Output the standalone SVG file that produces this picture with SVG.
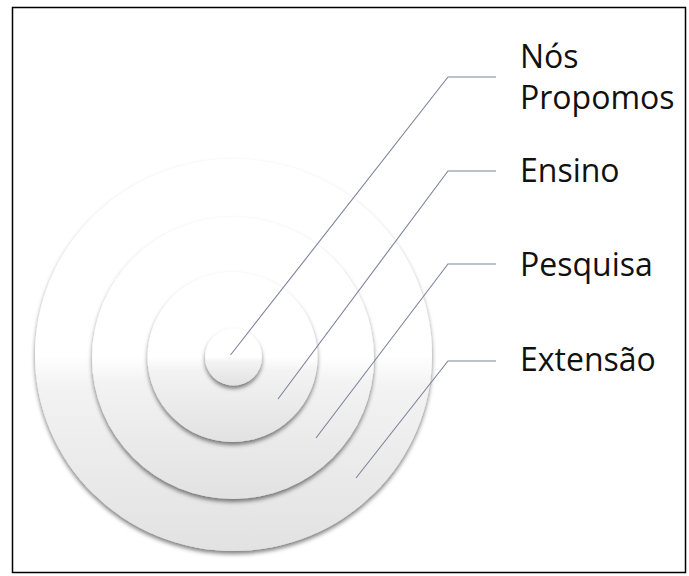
<svg xmlns="http://www.w3.org/2000/svg" width="689" height="576" viewBox="0 0 689 576">
  <style>
    .ring { fill: url(#ringFill); filter: url(#ringShadow); }
    .conn { fill: none; stroke: #7d849c; stroke-width: 1.1; }
    .label { font-family: "Open Sans", "Noto Sans", sans-serif; font-size: 32px; fill: #111; }
  </style>
  <defs>
    <linearGradient id="ringFill" x1="0" y1="0" x2="0" y2="1">
      <stop offset="0" stop-color="#ffffff"/>
      <stop offset="0.5" stop-color="#ffffff"/>
      <stop offset="0.58" stop-color="#f3f3f3"/>
      <stop offset="1" stop-color="#e2e2e2"/>
    </linearGradient>
    <filter id="ringShadow" x="-10%" y="-10%" width="120%" height="125%">
      <feDropShadow dx="0" dy="3" stdDeviation="2.2" flood-color="#000" flood-opacity="0.5"/>
    </filter>
  </defs>

  <!-- frame -->
  <rect x="12.5" y="7.5" width="673" height="565" fill="#fff" stroke="#000" stroke-width="1.5"/>

  <!-- concentric rings, outermost first -->
  <g id="extensao">
    <ellipse class="ring" cx="233.5" cy="355" rx="198.5" ry="196"/>
  </g>
  <g id="pesquisa">
    <circle class="ring" cx="233" cy="358" r="141"/>
  </g>
  <g id="ensino">
    <circle class="ring" cx="232.5" cy="357" r="85"/>
  </g>
  <g id="nos-propomos">
    <circle class="ring" cx="233.5" cy="357" r="28.5"/>
  </g>

  <!-- leader lines -->
  <g id="connectors">
    <polyline class="conn" points="230.5,355 448,77 496,77"/>
    <polyline class="conn" points="278,399 448,171 496,171"/>
    <polyline class="conn" points="316,438 448,264 496,264"/>
    <polyline class="conn" points="356,478 448,361 496,361"/>
  </g>

  <!-- labels -->
  <g id="labels">
    <text class="label" x="520" y="68">Nós</text>
    <text class="label" x="520" y="109">Propomos</text>
    <text class="label" x="520" y="182">Ensino</text>
    <text class="label" x="520" y="276">Pesquisa</text>
    <text class="label" x="520" y="371">Extensão</text>
  </g>
</svg>
